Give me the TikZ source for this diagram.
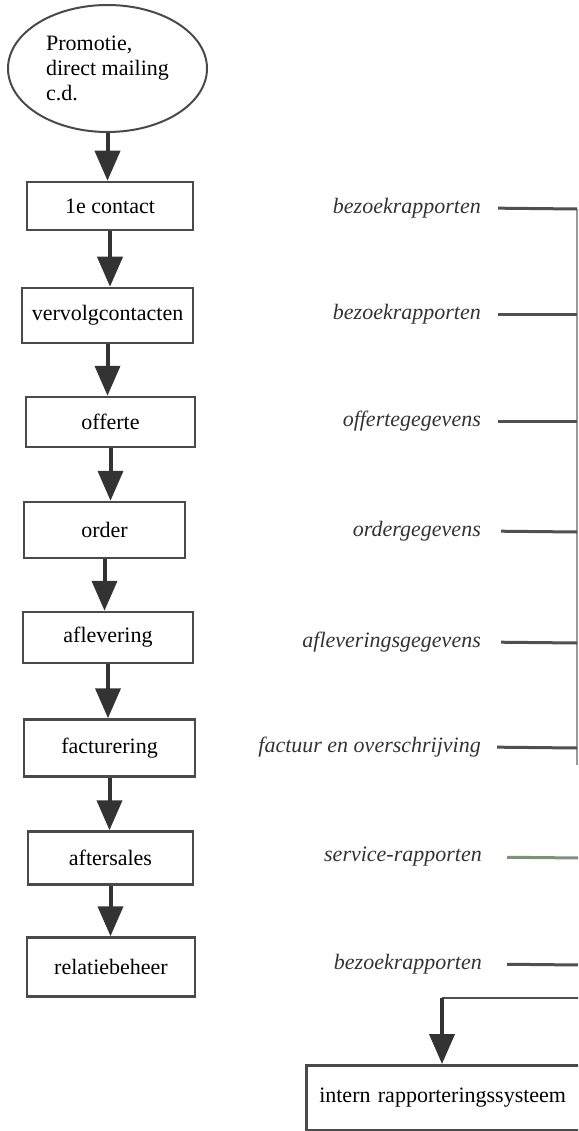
\documentclass[tikz,border=0pt]{standalone}
\usepackage{fontspec}
\setmainfont{Liberation Serif}
\usetikzlibrary{arrows.meta,positioning,shapes.geometric}
\definecolor{boxgray}{HTML}{4A4A4A}
\definecolor{linegray}{HTML}{505050}
\definecolor{busgray}{HTML}{9A9A9A}
\definecolor{servicegreen}{HTML}{7E917A}
\newcommand{\diagfont}{\fontsize{22}{25}\selectfont}

\begin{document}
\begin{tikzpicture}[
      x=1pt,y=-1pt,
      stepbox/.style={draw=boxgray,line width=2.5pt,inner sep=0pt,font=\diagfont},
      flow/.style={-{Triangle[width=25pt,length=30pt]},line width=4pt,black!80},
      lbl/.style={font=\diagfont\itshape,anchor=east,inner sep=0pt,black!80},
      feed/.style={line width=3pt,linegray,shorten <=17pt},
      bus/.style={line width=2pt,busgray}
    ]
    \useasboundingbox (0,0) rectangle (578,1131);
    \clip (0,0) rectangle (578,1131);
    % process steps
    \node[ellipse,draw=boxgray,line width=2pt,minimum width=199pt,minimum height=127pt,
          inner sep=0pt,align=left,font=\diagfont] (promo) at (107.5,68.5)
      {Promotie,\\direct mailing\\c.d.};
    \node[stepbox,minimum width=166pt,minimum height=48pt] (contact) at (110,206) {1e contact};
    \node[stepbox,minimum width=171pt,minimum height=55pt] (vervolg) at (107.5,315.5) {vervolgcontacten};
    \node[stepbox,minimum width=169pt,minimum height=50pt] (offerte) at (110.5,422) {offerte};
    \node[stepbox,minimum width=161pt,minimum height=56pt] (order) at (104.5,530) {order};
    \node[stepbox,minimum width=170pt,minimum height=51pt] (aflever) at (108,637.5) {aflevering};
    \node[stepbox,minimum width=171pt,minimum height=57pt] (factuur) at (109.5,748) {facturering};
    \node[stepbox,minimum width=165pt,minimum height=53pt] (after) at (110.5,858) {aftersales};
    \node[stepbox,minimum width=168pt,minimum height=59pt] (relatie) at (111,967) {relatiebeheer};
    \node[stepbox,anchor=north west,minimum height=65pt,text width=272pt,align=left,
          inner xsep=13pt] (intern) at (305,1064) {intern rapporteringssysteem};

    \draw[flow] (promo.south) -- (promo.south |- contact.north);
    \draw[flow] (contact.south) -- (contact.south |- vervolg.north);
    \draw[flow] (vervolg.south) -- (vervolg.south |- offerte.north);
    \draw[flow] (offerte.south) -- (offerte.south |- order.north);
    \draw[flow] (order.south) -- (order.south |- aflever.north);
    \draw[flow] (aflever.south) -- (aflever.south |- factuur.north);
    \draw[flow] (factuur.south) -- (factuur.south |- after.north);
    \draw[flow] (after.south) -- (after.south |- relatie.north);

    % reports
    \node[lbl] (rep1) at (481,208) {bezoekrapporten};
    \node[lbl] (rep2) at (481,314) {bezoekrapporten};
    \node[lbl] (rep3) at (481,421) {offertegegevens};
    \node[lbl] (rep4) at (481,531) {ordergegevens};
    \node[lbl] (rep5) at (481,642) {afleveringsgegevens};
    \node[lbl] (rep6) at (481,747) {factuur en overschrijving};
    \node[lbl] (rep7) at (482,857) {service-rapporten};
    \node[lbl] (rep8) at (482,964) {bezoekrapporten};

    \coordinate (bus1) at (577,209);
    \coordinate (bus2) at (577,314);
    \coordinate (bus3) at (577,421);
    \coordinate (bus4) at (577,532);
    \coordinate (bus5) at (577,643);
    \coordinate (bus6) at (577,748);
    \coordinate (bus7) at (580,858);
    \coordinate (bus8) at (580,965);
    \coordinate (bus9) at (580,998);
    \coordinate (drop) at (442,998);

    \draw[bus] (bus1) -- (577,765);
    \draw[feed] (rep1.east) -- (bus1);
    \draw[feed] (rep2.east) -- (bus2);
    \draw[feed] (rep3.east) -- (bus3);
    \draw[feed,shorten <=20pt] (rep4.east) -- (bus4);
    \draw[feed,shorten <=20pt] (rep5.east) -- (bus5);
    \draw[feed,shorten <=16pt] (rep6.east) -- (bus6);
    \draw[feed,servicegreen,shorten <=25pt] (rep7.east) -- (bus7);
    \draw[feed,shorten <=25pt] (rep8.east) -- (bus8);

    \draw[line width=2.5pt,linegray] (bus9) -- (drop);
    \draw[flow] (drop) -- (drop |- intern.north);
  \end{tikzpicture}
\end{document}
